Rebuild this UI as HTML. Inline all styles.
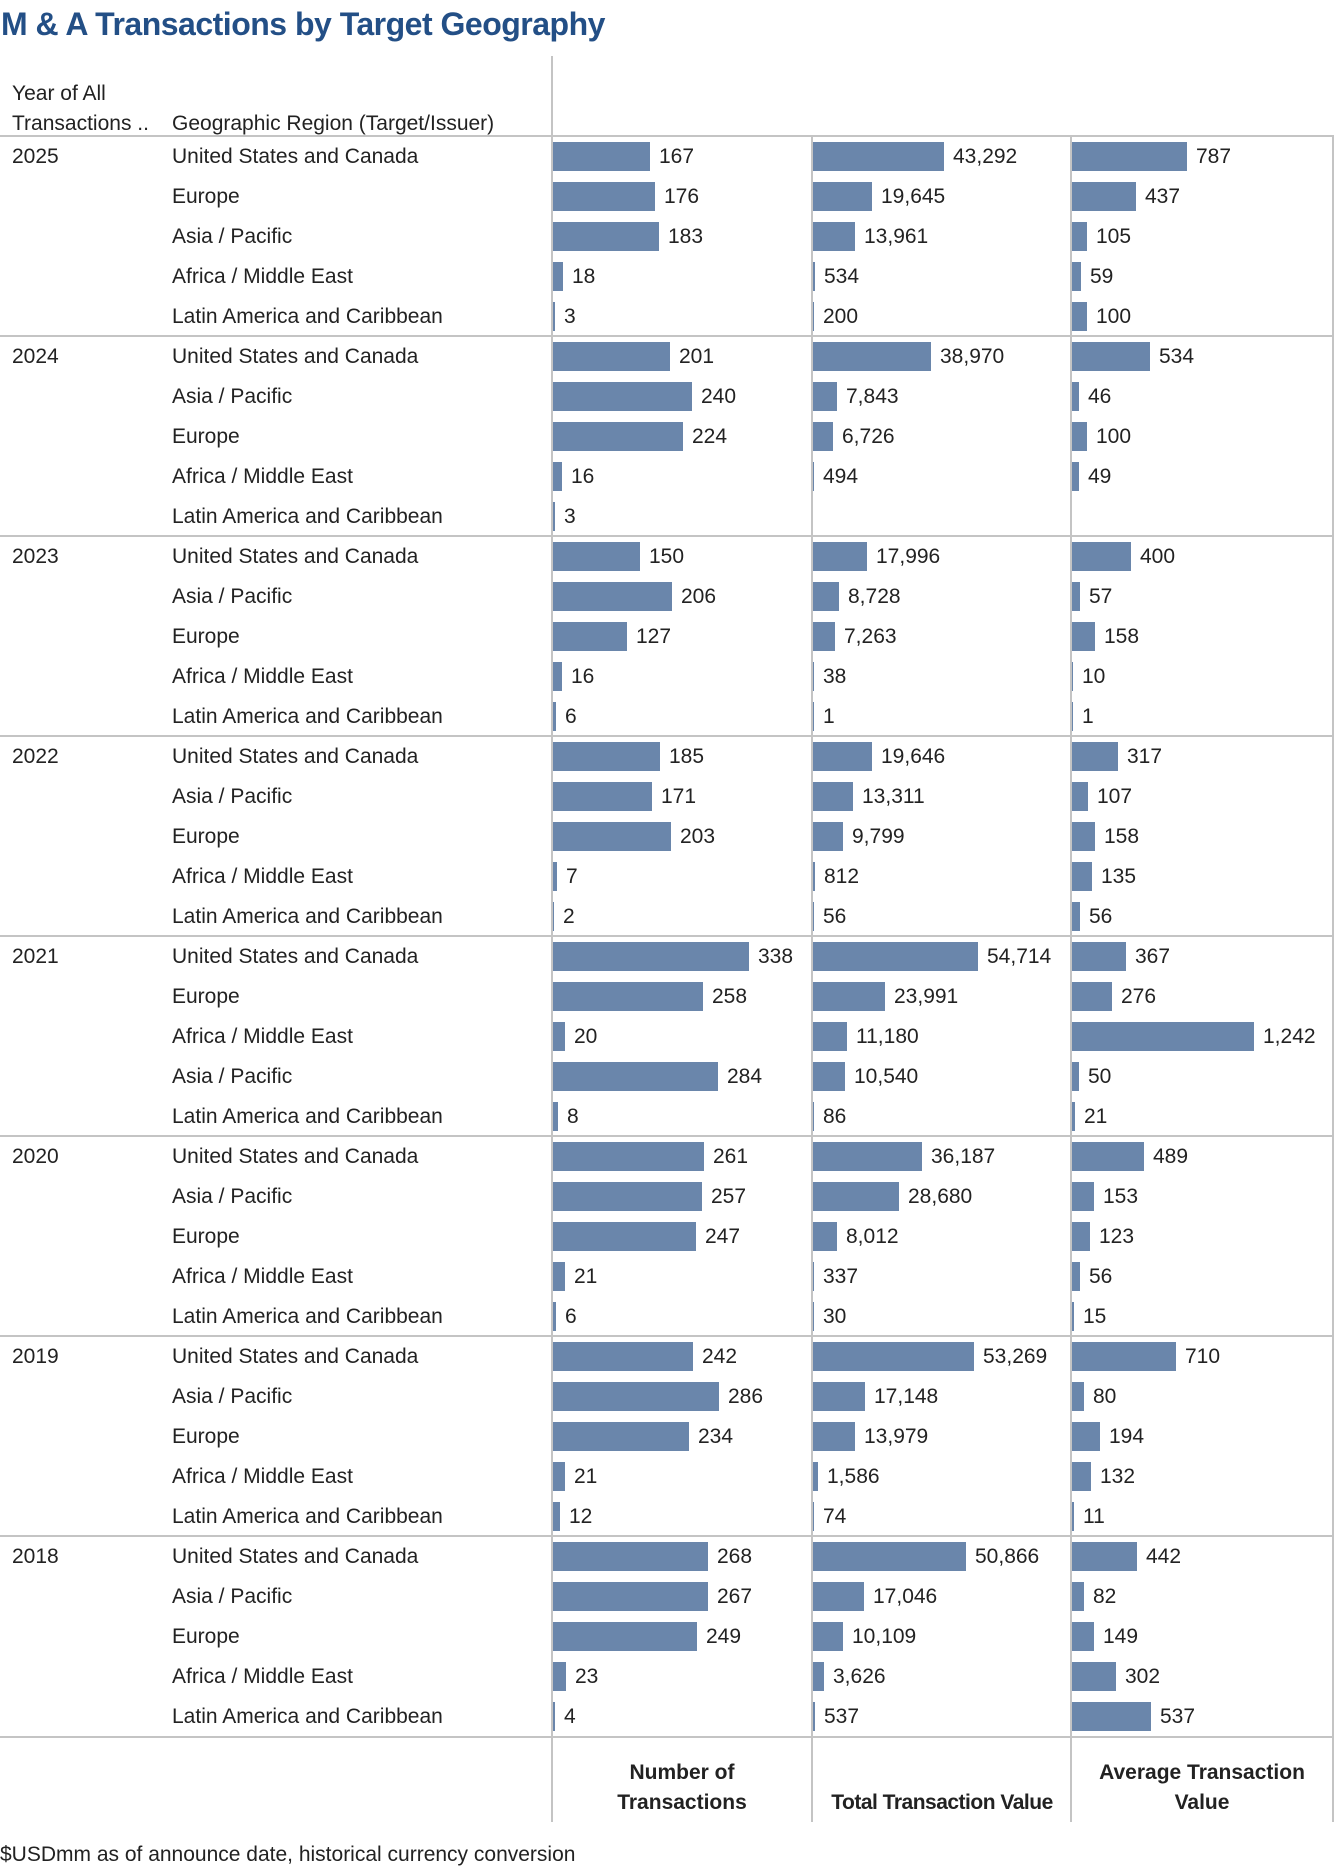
<!DOCTYPE html>
<html><head><meta charset="utf-8"><style>
body{margin:0;width:1336px;height:1870px;background:#fff;position:relative;font-family:"Liberation Sans",sans-serif;color:#222;overflow:hidden}
.t{position:absolute;left:1px;top:6px;font-size:32px;font-weight:bold;color:#234f86;letter-spacing:-0.5px}
.h{position:absolute;font-size:21px}
.hl{position:absolute;left:0;width:1334px;height:2px;background:#c4c4c4}
.vl{position:absolute;width:2px;background:#c4c4c4}
.r{position:absolute;left:0;width:1334px;height:40px;font-size:21px}
.y{position:absolute;left:12px;top:1px;line-height:40px}
.g{position:absolute;left:172px;top:1px;line-height:40px}
.c{position:absolute;top:0;height:40px;display:flex;align-items:center;gap:9px}
.c span{position:relative;top:1px}
.c i{display:block;height:29px;background:#6a86ab;min-width:1px}
.c1{left:553px}.c2{left:813px}.c3{left:1072px}
.f{position:absolute;font-size:21px;font-weight:bold;text-align:center;line-height:30px}
</style></head><body>
<div class="t">M &amp; A Transactions by Target Geography</div>
<div class="h" style="left:12px;top:82px">Year of All</div>
<div class="h" style="left:12px;top:112px">Transactions ..</div>
<div class="h" style="left:172px;top:112px">Geographic Region (Target/Issuer)</div>
<div class="vl" style="left:551px;top:56px;height:1766px"></div>
<div class="vl" style="left:811px;top:136px;height:1686px"></div>
<div class="vl" style="left:1070px;top:136px;height:1686px"></div>
<div class="vl" style="left:1332px;top:136px;height:1686px"></div>
<div class="hl" style="top:135px"></div>
<div class="hl" style="top:335px"></div>
<div class="hl" style="top:535px"></div>
<div class="hl" style="top:735px"></div>
<div class="hl" style="top:935px"></div>
<div class="hl" style="top:1135px"></div>
<div class="hl" style="top:1335px"></div>
<div class="hl" style="top:1535px"></div>
<div class="hl" style="top:1736px"></div>

<div class="r" style="top:136px"><span class="y">2025</span><span class="g">United States and Canada</span><div class="c c1"><i style="width:97px"></i><span>167</span></div><div class="c c2"><i style="width:131px"></i><span>43,292</span></div><div class="c c3"><i style="width:115px"></i><span>787</span></div></div>
<div class="r" style="top:176px"><span class="g">Europe</span><div class="c c1"><i style="width:102px"></i><span>176</span></div><div class="c c2"><i style="width:59px"></i><span>19,645</span></div><div class="c c3"><i style="width:64px"></i><span>437</span></div></div>
<div class="r" style="top:216px"><span class="g">Asia / Pacific</span><div class="c c1"><i style="width:106px"></i><span>183</span></div><div class="c c2"><i style="width:42px"></i><span>13,961</span></div><div class="c c3"><i style="width:15px"></i><span>105</span></div></div>
<div class="r" style="top:256px"><span class="g">Africa / Middle East</span><div class="c c1"><i style="width:10px"></i><span>18</span></div><div class="c c2"><i style="width:2px"></i><span>534</span></div><div class="c c3"><i style="width:9px"></i><span>59</span></div></div>
<div class="r" style="top:296px"><span class="g">Latin America and Caribbean</span><div class="c c1"><i style="width:2px"></i><span>3</span></div><div class="c c2"><i style="width:1px"></i><span>200</span></div><div class="c c3"><i style="width:15px"></i><span>100</span></div></div>

<div class="r" style="top:336px"><span class="y">2024</span><span class="g">United States and Canada</span><div class="c c1"><i style="width:117px"></i><span>201</span></div><div class="c c2"><i style="width:118px"></i><span>38,970</span></div><div class="c c3"><i style="width:78px"></i><span>534</span></div></div>
<div class="r" style="top:376px"><span class="g">Asia / Pacific</span><div class="c c1"><i style="width:139px"></i><span>240</span></div><div class="c c2"><i style="width:24px"></i><span>7,843</span></div><div class="c c3"><i style="width:7px"></i><span>46</span></div></div>
<div class="r" style="top:416px"><span class="g">Europe</span><div class="c c1"><i style="width:130px"></i><span>224</span></div><div class="c c2"><i style="width:20px"></i><span>6,726</span></div><div class="c c3"><i style="width:15px"></i><span>100</span></div></div>
<div class="r" style="top:456px"><span class="g">Africa / Middle East</span><div class="c c1"><i style="width:9px"></i><span>16</span></div><div class="c c2"><i style="width:1px"></i><span>494</span></div><div class="c c3"><i style="width:7px"></i><span>49</span></div></div>
<div class="r" style="top:496px"><span class="g">Latin America and Caribbean</span><div class="c c1"><i style="width:2px"></i><span>3</span></div></div>

<div class="r" style="top:536px"><span class="y">2023</span><span class="g">United States and Canada</span><div class="c c1"><i style="width:87px"></i><span>150</span></div><div class="c c2"><i style="width:54px"></i><span>17,996</span></div><div class="c c3"><i style="width:59px"></i><span>400</span></div></div>
<div class="r" style="top:576px"><span class="g">Asia / Pacific</span><div class="c c1"><i style="width:119px"></i><span>206</span></div><div class="c c2"><i style="width:26px"></i><span>8,728</span></div><div class="c c3"><i style="width:8px"></i><span>57</span></div></div>
<div class="r" style="top:616px"><span class="g">Europe</span><div class="c c1"><i style="width:74px"></i><span>127</span></div><div class="c c2"><i style="width:22px"></i><span>7,263</span></div><div class="c c3"><i style="width:23px"></i><span>158</span></div></div>
<div class="r" style="top:656px"><span class="g">Africa / Middle East</span><div class="c c1"><i style="width:9px"></i><span>16</span></div><div class="c c2"><i style="width:1px"></i><span>38</span></div><div class="c c3"><i style="width:1px"></i><span>10</span></div></div>
<div class="r" style="top:696px"><span class="g">Latin America and Caribbean</span><div class="c c1"><i style="width:3px"></i><span>6</span></div><div class="c c2"><i style="width:1px"></i><span>1</span></div><div class="c c3"><i style="width:1px"></i><span>1</span></div></div>

<div class="r" style="top:736px"><span class="y">2022</span><span class="g">United States and Canada</span><div class="c c1"><i style="width:107px"></i><span>185</span></div><div class="c c2"><i style="width:59px"></i><span>19,646</span></div><div class="c c3"><i style="width:46px"></i><span>317</span></div></div>
<div class="r" style="top:776px"><span class="g">Asia / Pacific</span><div class="c c1"><i style="width:99px"></i><span>171</span></div><div class="c c2"><i style="width:40px"></i><span>13,311</span></div><div class="c c3"><i style="width:16px"></i><span>107</span></div></div>
<div class="r" style="top:816px"><span class="g">Europe</span><div class="c c1"><i style="width:118px"></i><span>203</span></div><div class="c c2"><i style="width:30px"></i><span>9,799</span></div><div class="c c3"><i style="width:23px"></i><span>158</span></div></div>
<div class="r" style="top:856px"><span class="g">Africa / Middle East</span><div class="c c1"><i style="width:4px"></i><span>7</span></div><div class="c c2"><i style="width:2px"></i><span>812</span></div><div class="c c3"><i style="width:20px"></i><span>135</span></div></div>
<div class="r" style="top:896px"><span class="g">Latin America and Caribbean</span><div class="c c1"><i style="width:1px"></i><span>2</span></div><div class="c c2"><i style="width:1px"></i><span>56</span></div><div class="c c3"><i style="width:8px"></i><span>56</span></div></div>

<div class="r" style="top:936px"><span class="y">2021</span><span class="g">United States and Canada</span><div class="c c1"><i style="width:196px"></i><span>338</span></div><div class="c c2"><i style="width:165px"></i><span>54,714</span></div><div class="c c3"><i style="width:54px"></i><span>367</span></div></div>
<div class="r" style="top:976px"><span class="g">Europe</span><div class="c c1"><i style="width:150px"></i><span>258</span></div><div class="c c2"><i style="width:72px"></i><span>23,991</span></div><div class="c c3"><i style="width:40px"></i><span>276</span></div></div>
<div class="r" style="top:1016px"><span class="g">Africa / Middle East</span><div class="c c1"><i style="width:12px"></i><span>20</span></div><div class="c c2"><i style="width:34px"></i><span>11,180</span></div><div class="c c3"><i style="width:182px"></i><span>1,242</span></div></div>
<div class="r" style="top:1056px"><span class="g">Asia / Pacific</span><div class="c c1"><i style="width:165px"></i><span>284</span></div><div class="c c2"><i style="width:32px"></i><span>10,540</span></div><div class="c c3"><i style="width:7px"></i><span>50</span></div></div>
<div class="r" style="top:1096px"><span class="g">Latin America and Caribbean</span><div class="c c1"><i style="width:5px"></i><span>8</span></div><div class="c c2"><i style="width:1px"></i><span>86</span></div><div class="c c3"><i style="width:3px"></i><span>21</span></div></div>

<div class="r" style="top:1136px"><span class="y">2020</span><span class="g">United States and Canada</span><div class="c c1"><i style="width:151px"></i><span>261</span></div><div class="c c2"><i style="width:109px"></i><span>36,187</span></div><div class="c c3"><i style="width:72px"></i><span>489</span></div></div>
<div class="r" style="top:1176px"><span class="g">Asia / Pacific</span><div class="c c1"><i style="width:149px"></i><span>257</span></div><div class="c c2"><i style="width:86px"></i><span>28,680</span></div><div class="c c3"><i style="width:22px"></i><span>153</span></div></div>
<div class="r" style="top:1216px"><span class="g">Europe</span><div class="c c1"><i style="width:143px"></i><span>247</span></div><div class="c c2"><i style="width:24px"></i><span>8,012</span></div><div class="c c3"><i style="width:18px"></i><span>123</span></div></div>
<div class="r" style="top:1256px"><span class="g">Africa / Middle East</span><div class="c c1"><i style="width:12px"></i><span>21</span></div><div class="c c2"><i style="width:1px"></i><span>337</span></div><div class="c c3"><i style="width:8px"></i><span>56</span></div></div>
<div class="r" style="top:1296px"><span class="g">Latin America and Caribbean</span><div class="c c1"><i style="width:3px"></i><span>6</span></div><div class="c c2"><i style="width:1px"></i><span>30</span></div><div class="c c3"><i style="width:2px"></i><span>15</span></div></div>

<div class="r" style="top:1336px"><span class="y">2019</span><span class="g">United States and Canada</span><div class="c c1"><i style="width:140px"></i><span>242</span></div><div class="c c2"><i style="width:161px"></i><span>53,269</span></div><div class="c c3"><i style="width:104px"></i><span>710</span></div></div>
<div class="r" style="top:1376px"><span class="g">Asia / Pacific</span><div class="c c1"><i style="width:166px"></i><span>286</span></div><div class="c c2"><i style="width:52px"></i><span>17,148</span></div><div class="c c3"><i style="width:12px"></i><span>80</span></div></div>
<div class="r" style="top:1416px"><span class="g">Europe</span><div class="c c1"><i style="width:136px"></i><span>234</span></div><div class="c c2"><i style="width:42px"></i><span>13,979</span></div><div class="c c3"><i style="width:28px"></i><span>194</span></div></div>
<div class="r" style="top:1456px"><span class="g">Africa / Middle East</span><div class="c c1"><i style="width:12px"></i><span>21</span></div><div class="c c2"><i style="width:5px"></i><span>1,586</span></div><div class="c c3"><i style="width:19px"></i><span>132</span></div></div>
<div class="r" style="top:1496px"><span class="g">Latin America and Caribbean</span><div class="c c1"><i style="width:7px"></i><span>12</span></div><div class="c c2"><i style="width:1px"></i><span>74</span></div><div class="c c3"><i style="width:2px"></i><span>11</span></div></div>

<div class="r" style="top:1536px"><span class="y">2018</span><span class="g">United States and Canada</span><div class="c c1"><i style="width:155px"></i><span>268</span></div><div class="c c2"><i style="width:153px"></i><span>50,866</span></div><div class="c c3"><i style="width:65px"></i><span>442</span></div></div>
<div class="r" style="top:1576px"><span class="g">Asia / Pacific</span><div class="c c1"><i style="width:155px"></i><span>267</span></div><div class="c c2"><i style="width:51px"></i><span>17,046</span></div><div class="c c3"><i style="width:12px"></i><span>82</span></div></div>
<div class="r" style="top:1616px"><span class="g">Europe</span><div class="c c1"><i style="width:144px"></i><span>249</span></div><div class="c c2"><i style="width:30px"></i><span>10,109</span></div><div class="c c3"><i style="width:22px"></i><span>149</span></div></div>
<div class="r" style="top:1656px"><span class="g">Africa / Middle East</span><div class="c c1"><i style="width:13px"></i><span>23</span></div><div class="c c2"><i style="width:11px"></i><span>3,626</span></div><div class="c c3"><i style="width:44px"></i><span>302</span></div></div>
<div class="r" style="top:1696px"><span class="g">Latin America and Caribbean</span><div class="c c1"><i style="width:2px"></i><span>4</span></div><div class="c c2"><i style="width:2px"></i><span>537</span></div><div class="c c3"><i style="width:79px"></i><span>537</span></div></div>

<div class="f" style="left:553px;width:258px;top:1758px">Number of<br>Transactions</div>
<div class="f" style="left:813px;width:258px;top:1788px;white-space:nowrap;letter-spacing:-0.5px">Total Transaction Value</div>
<div class="f" style="left:1072px;width:260px;top:1758px">Average Transaction<br>Value</div>
<div class="h" style="left:0;top:1843px">$USDmm as of announce date, historical currency conversion</div>
</body></html>
